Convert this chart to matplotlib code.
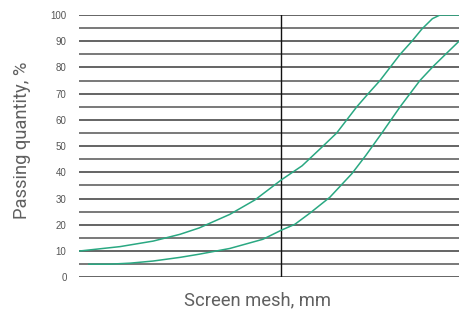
import matplotlib
matplotlib.use("Agg")
import matplotlib.pyplot as plt

plt.rcParams['font.family'] = ['Liberation Sans', 'DejaVu Sans']

# relative mesh position (0-100 across the plot width), passing %
upper_x = [0, 10.8, 19.5, 26.6, 31.6, 39.7, 46.3, 53.3, 58.7, 64.2, 67.8, 73.1, 76.1, 79.2, 84.5, 87.6, 90.2, 93.0, 95.0, 100]
upper_y = [10, 11.7, 13.8, 16.4, 18.8, 24.0, 29.5, 37.2, 42.5, 50.0, 55.0, 65.0, 70.0, 75.0, 85.0, 90.0, 94.6, 98.6, 100, 100]
lower_x = [2.6, 8.0, 13.5, 19.5, 26.6, 31.6, 39.7, 48.4, 53.3, 56.8, 60.8, 66.0, 71.8, 75.5, 79.7, 84.5, 89.7, 93.2, 96.3, 100]
lower_y = [5.0, 5.0, 5.4, 6.2, 7.6, 8.8, 11.0, 14.5, 18.0, 20.2, 24.5, 30.5, 39.5, 46.5, 55.0, 65.0, 75.0, 80.4, 84.8, 90.0]
y_ticks = [0, 10, 20, 30, 40, 50, 60, 70, 80, 90, 100]
grid_levels = list(range(0, 101, 5))
split_x = 53.2

fig = plt.figure(figsize=(4.59, 3.11), dpi=100)
ax = fig.add_axes([79/459, 33.7/311, 380/459, 262.3/311])
for g in grid_levels:
    ax.axhline(g, color="#3a3a3a" if g % 10 == 0 else "#555555", lw=1.1, zorder=1)
ax.axvline(split_x, color="#111111", lw=1.0, zorder=1)
green = "#2aa882"
ax.plot(upper_x, upper_y, color=green, lw=1.1, zorder=3)
ax.plot(lower_x, lower_y, color=green, lw=1.1, zorder=3)
ax.set_xlim(0, 100)
ax.set_ylim(0, 100)
for s in ax.spines.values():
    s.set_visible(False)
ax.set_xticks([])
ax.set_yticks(y_ticks)
ax.tick_params(axis="y", length=0, pad=9, labelsize=7, labelcolor="#555555")
lab = dict(fontsize=13.2, color="#606060", va="center", family=["Roboto", "DejaVu Sans"], fontweight="normal")
ax.set_ylabel("Passing quantity, %", **lab)
ax.set_xlabel("Screen mesh, mm", **lab)
ax.yaxis.set_label_coords((22 - 79) / 380, (277.3 - 140) / 262.3)
ax.xaxis.set_label_coords((258 - 79) / 380, (277.3 - 300) / 262.3)
fig.savefig("out.png", dpi=100)
